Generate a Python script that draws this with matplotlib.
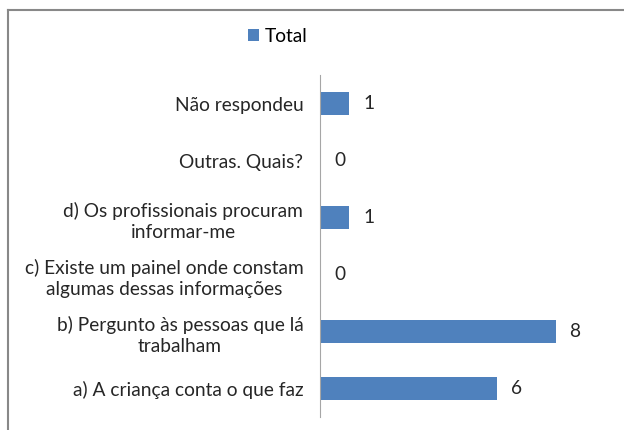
import matplotlib
matplotlib.use("Agg")
import matplotlib.pyplot as plt
from matplotlib.lines import Line2D

categorias = ["a) A criança conta o que faz",
              "b) Pergunto às pessoas que lá\ntrabalham",
              "c) Existe um painel onde constam\nalgumas dessas informações",
              "d) Os profissionais procuram\ninformar-me",
              "Outras. Quais?",
              "Não respondeu"]
totais = [6, 8, 0, 1, 0, 1]

plt.rcParams['font.family'] = ['Lato', 'DejaVu Sans']
fs = 13.8

fig = plt.figure(figsize=(6.24, 4.3), dpi=100)
ax = fig.add_axes([320/624, 13/430, 265/624, 342/430])

pos = range(len(categorias))
barras = ax.barh(pos, totais, height=0.4, color='#4F81BD', label='Total')
ax.set_ylim(-0.5, len(categorias) - 0.5)
ax.set_xlim(0, 9)

for p, v in zip(pos, totais):
    ax.annotate(str(v), (v, p), xytext=(10, 0), textcoords='offset points',
                ha='left', va='center', fontsize=fs, color='#262626')

ax.set_yticks(list(pos))
ax.set_yticklabels(categorias, fontsize=fs, color='#262626', multialignment='center',
                   linespacing=1.35)
ax.tick_params(axis='y', length=0, pad=12)
ax.set_xticks([])
for s in ['top', 'right', 'bottom']:
    ax.spines[s].set_visible(False)
ax.spines['left'].set_color('#A6A6A6')

fig.legend(handles=[barras], labels=['Total'], loc='center', bbox_to_anchor=(278/624, 1 - 36/430),
           frameon=False, fontsize=fs, handlelength=0.6, handleheight=0.6, handletextpad=0.3)

# chart border, only left and top visible in the crop
fig.add_artist(Line2D([8/624, 8/624], [0, 1 - 10/430], transform=fig.transFigure,
                      color='#888888', linewidth=1.5))
fig.add_artist(Line2D([8/624, 1], [1 - 10/430, 1 - 10/430], transform=fig.transFigure,
                      color='#888888', linewidth=1.5))

fig.savefig('out.png', dpi=100)
